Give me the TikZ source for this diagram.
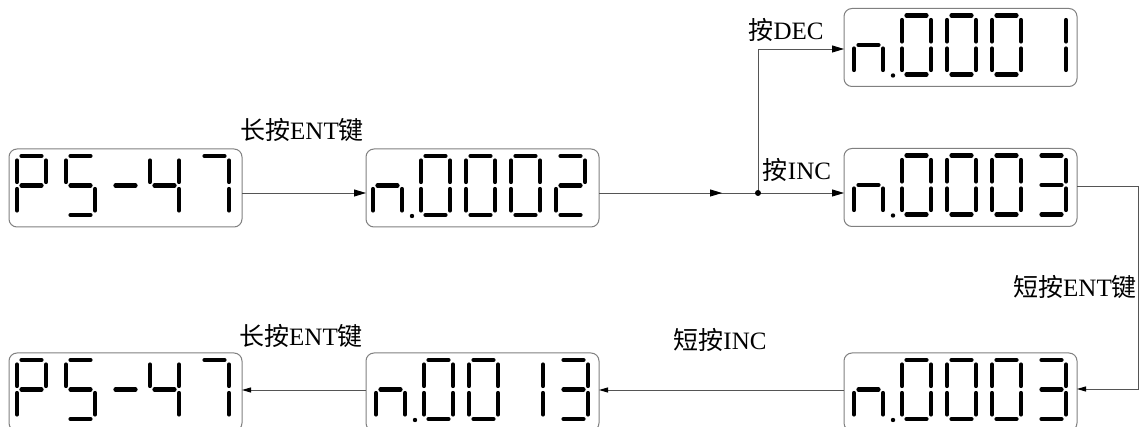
\documentclass[tikz,border=0pt]{standalone}
\usepackage{fontspec}
\setmainfont{Liberation Serif}
\newfontfamily\cjk{Noto Sans CJK SC}
\usetikzlibrary{arrows.meta,calc}
\definecolor{boxc}{HTML}{808080}
\definecolor{linec}{HTML}{555555}
\newcommand\dW{29}
\newcommand\dH{59}
\newcommand\Sa{\draw[seg] (4.5,0)--(\dW-4.5,0);}
\newcommand\Sb{\draw[seg] (\dW,4.5)--(\dW,\dH/2-3.5);}
\newcommand\Sc{\draw[seg] (\dW,\dH/2+3.5)--(\dW,\dH-4.5);}
\newcommand\Sd{\draw[seg] (4.5,\dH)--(\dW-4.5,\dH);}
\newcommand\Se{\draw[seg] (0,\dH/2+3.5)--(0,\dH-4.5);}
\newcommand\Sf{\draw[seg] (0,4.5)--(0,\dH/2-3.5);}
\newcommand\Sg{\draw[seg] (4.5,\dH/2)--(\dW-4.5,\dH/2);}
\newcommand\DZero{\Sa\Sb\Sc\Sd\Se\Sf}
\newcommand\DOne{\Sb\Sc}
\newcommand\DTwo{\Sa\Sb\Sg\Se\Sd}
\newcommand\DThree{\Sa\Sb\Sg\Sc\Sd}
\newcommand\DFour{\Sf\Sg\Sb\Sc}
\newcommand\DFive{\Sa\Sf\Sg\Sc\Sd}
\newcommand\DSeven{\Sa\Sb\Sc}
\newcommand\DPee{\Sa\Sb\Sf\Sg\Se}
\newcommand\DDash{\Sg}
\newcommand\DEnn{\Sg\Se\Sc}
\newcommand\Dg[3]{\begin{scope}[shift={(#1,#2)}]#3\end{scope}}
\newcommand\PSdisp[1]{\begin{scope}[shift={(#1.north west)}]
  \Dg{8}{7}{\DPee}\Dg{57}{7}{\DFive}\Dg{102}{7}{\DDash}\Dg{141}{7}{\DFour}\Dg{191}{7}{\DSeven}\end{scope}}
\newcommand\Ndisp[6]{\begin{scope}[shift={(#1.north west)},xshift=#2pt]
  \Dg{10}{7}{\DEnn}\fill (49,67) circle (2.2);
  \Dg{58}{7}{#3}\Dg{103}{7}{#4}\Dg{148}{7}{#5}\Dg{193}{7}{#6}\end{scope}}
\tikzset{
  seg/.style={line width=4.2pt, line cap=round, black},
  dispbox/.style={draw=boxc, line width=1pt, rounded corners=8pt, minimum width=233pt, minimum height=78pt, inner sep=0pt, outer sep=0pt},
  conn/.style={draw=linec, line width=0.9pt},
  arr/.style={conn, -{Triangle[length=12pt,width=7pt,color=black]}},
  arrs/.style={conn, -{Triangle[length=9pt,width=5pt,color=black]}},
  lbl/.style={font=\fontsize{25}{30}\selectfont, inner sep=0pt}
}
\begin{document}
\begin{tikzpicture}[x=1pt,y=-1pt]
\clip (0,0) rectangle (1144,427);
\fill[white] (0,0) rectangle (1144,427);
% boxes
\node[dispbox] (b1) at (125.5,188) {};
\node[dispbox] (b2) at (482.5,188) {};
\node[dispbox] (bdec) at (960.5,47.5) {};
\node[dispbox] (binc) at (960.5,187.5) {};
\node[dispbox] (br) at (960.5,392) {};
\node[dispbox] (b13) at (482.5,392) {};
\node[dispbox] (b47) at (125.5,392) {};
% displays
\PSdisp{b1}
\Ndisp{b2}{-3}{\DZero}{\DZero}{\DZero}{\DTwo}
\Ndisp{bdec}{0}{\DZero}{\DZero}{\DZero}{\DOne}
\Ndisp{binc}{0}{\DZero}{\DZero}{\DZero}{\DThree}
\Ndisp{br}{0}{\DZero}{\DZero}{\DZero}{\DThree}
\Ndisp{b13}{0}{\DZero}{\DZero}{\DOne}{\DThree}
\PSdisp{b47}
% labels
\node[lbl] (l1) at (302,130) {{\cjk 长按}ENT{\cjk 键}};
\node[lbl] (ldec) at (786,30) {{\cjk 按}DEC};
\node[lbl] (linc) at (797,170) {{\cjk 按}INC};
\node[lbl] (lent) at (1075,287) {{\cjk 短按}ENT{\cjk 键}};
\node[lbl] (lsinc) at (720,340) {{\cjk 短按}INC};
\node[lbl] (l2) at (301,336) {{\cjk 长按}ENT{\cjk 键}};
% connectors
\coordinate (j) at (758,193);
\coordinate (m) at (722,193);
\coordinate (rc) at (1138,389);
\draw[arr] ([yshift=-5pt]b1.east) -- ([yshift=-5pt]b2.west);
\draw[conn] ([yshift=-5pt]b2.east) -- (j);
\draw[arr] ([yshift=-5pt]b2.east) -- (m);
\draw[arr] (j) -- (binc.west |- j);
\draw[arr] (j) |- ([yshift=-1.5pt]bdec.west);
\fill[black] (j) circle (3);
\draw[arrs] ([yshift=1.5pt]binc.east) -| (rc) -- ([yshift=3pt]br.east);
\draw[arrs] ([yshift=2pt]br.west) -- ([yshift=2pt]b13.east);
\draw[arrs] ([yshift=2pt]b13.west) -- ([yshift=2pt]b47.east);
\end{tikzpicture}
\end{document}
